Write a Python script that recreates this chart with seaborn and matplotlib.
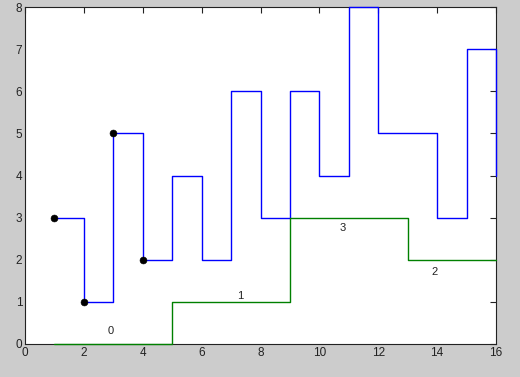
import numpy as np
import pandas as pd
import seaborn as sns
import matplotlib
matplotlib.use("Agg")
import matplotlib.pyplot as plt

# --- data ---
blue_x = [1, 2, 3, 4, 5, 6, 7, 8, 9, 10, 11, 12, 13, 14, 15, 16]
blue_y = [3, 1, 5, 2, 4, 2, 6, 3, 6, 4, 8, 5, 5, 3, 7, 4]

green_x = [1, 5, 9, 13, 16]
green_y = [0, 1, 3, 2, 2]

dot_x = [1, 2, 3, 4]
dot_y = [3, 1, 5, 2]

label_text = ["0", "1", "3", "2"]
label_x = [2.9, 7.3, 10.8, 13.9]
label_y = [0.3, 1.15, 2.75, 1.7]

sns.set_style("white")
plt.rcParams['font.family'] = ['Liberation Sans', 'DejaVu Sans']

fig = plt.figure(figsize=(5.2, 3.77), dpi=100, facecolor="#cccccc")
ax = fig.add_axes([25/520, 1 - 344/377, 471/520, 337/377])
ax.set_facecolor("white")

sns.lineplot(x=blue_x, y=blue_y, ax=ax, color="#0000ff", linewidth=1,
             drawstyle="steps-post", estimator=None, sort=False, zorder=3, clip_on=False)
sns.lineplot(x=green_x, y=green_y, ax=ax, color="#008000", linewidth=1,
             drawstyle="steps-post", estimator=None, sort=False, zorder=3, clip_on=False)
sns.scatterplot(x=dot_x, y=dot_y, ax=ax, color="black", s=25, edgecolor="black", zorder=5)

for t, lx, ly in zip(label_text, label_x, label_y):
    ax.text(lx, ly, t, fontsize=8, ha="center", va="center", color="#222222")

ax.set_xlim(0, 16)
ax.set_ylim(0, 8)
ax.set_xticks(np.arange(0, 17, 2))
ax.set_yticks(np.arange(0, 9, 1))
ax.tick_params(direction="in", length=4, width=0.8, labelsize=8.5, colors="#222222",
               top=True, right=True, pad=2)
for s in ax.spines.values():
    s.set_visible(True)
    s.set_color("#222222")
    s.set_linewidth(0.8)

fig.savefig("out.png", dpi=100, facecolor=fig.get_facecolor())
